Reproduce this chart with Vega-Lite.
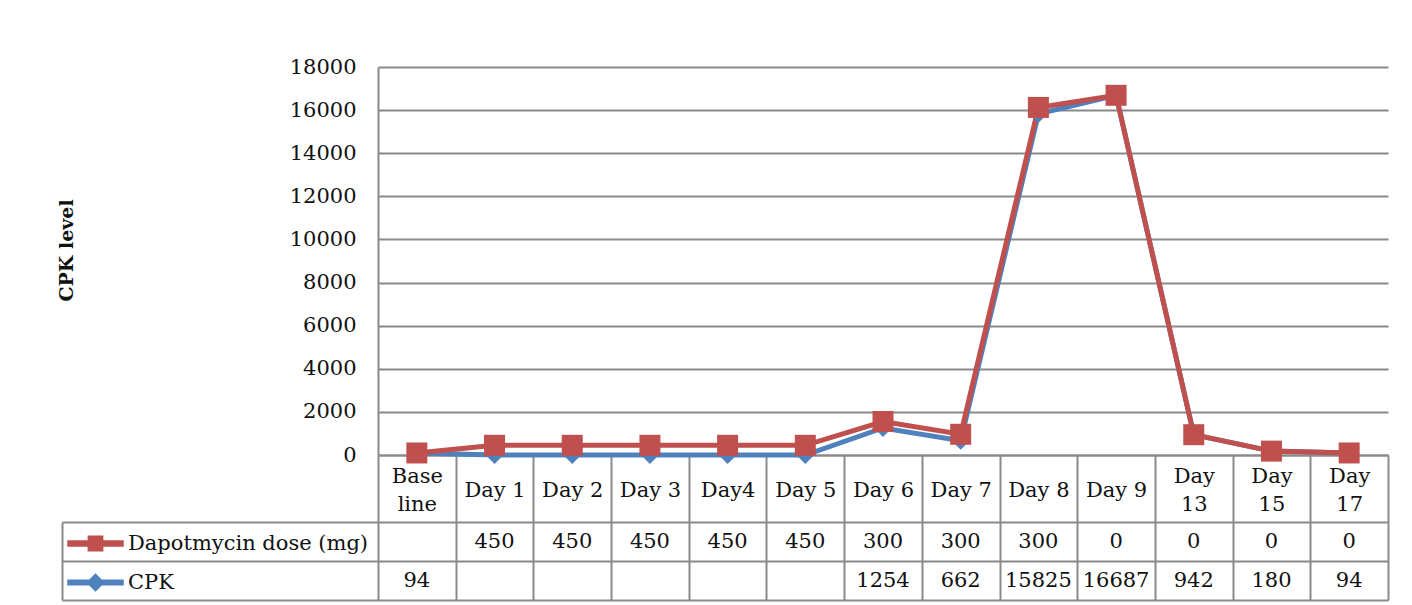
{
  "$schema": "https://vega.github.io/schema/vega-lite/v6.json",
  "autosize": {"type": "none"},
  "padding": {"left": 378, "top": 67, "right": 1034, "bottom": 538},
  "background": "white",
  "config": {"font": "DejaVu Serif", "view": {"stroke": null}},
  "data": {"values": [
    {"i": 0, "day": "Base line", "series": "CPK", "value": 94},
    {"i": 1, "day": "Day 1", "series": "CPK", "value": null},
    {"i": 2, "day": "Day 2", "series": "CPK", "value": null},
    {"i": 3, "day": "Day 3", "series": "CPK", "value": null},
    {"i": 4, "day": "Day4", "series": "CPK", "value": null},
    {"i": 5, "day": "Day 5", "series": "CPK", "value": null},
    {"i": 6, "day": "Day 6", "series": "CPK", "value": 1254},
    {"i": 7, "day": "Day 7", "series": "CPK", "value": 662},
    {"i": 8, "day": "Day 8", "series": "CPK", "value": 15825},
    {"i": 9, "day": "Day 9", "series": "CPK", "value": 16687},
    {"i": 10, "day": "Day 13", "series": "CPK", "value": 942},
    {"i": 11, "day": "Day 15", "series": "CPK", "value": 180},
    {"i": 12, "day": "Day 17", "series": "CPK", "value": 94},
    {"i": 0, "day": "Base line", "series": "Dapotmycin dose (mg)", "value": null},
    {"i": 1, "day": "Day 1", "series": "Dapotmycin dose (mg)", "value": 450},
    {"i": 2, "day": "Day 2", "series": "Dapotmycin dose (mg)", "value": 450},
    {"i": 3, "day": "Day 3", "series": "Dapotmycin dose (mg)", "value": 450},
    {"i": 4, "day": "Day4", "series": "Dapotmycin dose (mg)", "value": 450},
    {"i": 5, "day": "Day 5", "series": "Dapotmycin dose (mg)", "value": 450},
    {"i": 6, "day": "Day 6", "series": "Dapotmycin dose (mg)", "value": 300},
    {"i": 7, "day": "Day 7", "series": "Dapotmycin dose (mg)", "value": 300},
    {"i": 8, "day": "Day 8", "series": "Dapotmycin dose (mg)", "value": 300},
    {"i": 9, "day": "Day 9", "series": "Dapotmycin dose (mg)", "value": 0},
    {"i": 10, "day": "Day 13", "series": "Dapotmycin dose (mg)", "value": 0},
    {"i": 11, "day": "Day 15", "series": "Dapotmycin dose (mg)", "value": 0},
    {"i": 12, "day": "Day 17", "series": "Dapotmycin dose (mg)", "value": 0}
  ]},
  "bounds": "flush",
  "spacing": 67,
  "resolve": {"scale": {"x": "independent", "y": "independent"}},
  "vconcat": [
    {
      "width": 1010,
      "height": 388,
      "transform": [
        {"stack": "value", "groupby": ["day"], "sort": [{"field": "series", "order": "ascending"}], "as": ["v0", "v1"]}
      ],
      "encoding": {
        "x": {
          "field": "day", "type": "nominal",
          "sort": ["Base line", "Day 1", "Day 2", "Day 3", "Day4", "Day 5", "Day 6", "Day 7", "Day 8", "Day 9", "Day 13", "Day 15", "Day 17"],
          "scale": {"type": "band", "paddingInner": 0, "paddingOuter": 0},
          "axis": {
            "title": null, "grid": false,
            "domain": true, "domainColor": "#8a8a8a", "domainWidth": 2,
            "ticks": true, "tickBand": "extent", "tickSize": 67, "tickColor": "#8a8a8a", "tickWidth": 2,
            "labelAngle": 0, "labelBaseline": "middle", "labelAlign": "center",
            "labelPadding": {"condition": {"test": "indexof(['Base line','Day 13','Day 15','Day 17'], datum.value) >= 0", "value": -46}, "value": -32},
            "labelFont": "DejaVu Serif", "labelFontSize": 21, "labelColor": "#111111", "labelLineHeight": 28,
            "labelOverlap": false,
            "labelExpr": "indexof(['Base line','Day 13','Day 15','Day 17'], datum.value) >= 0 ? split(datum.value, ' ') : datum.value"
          }
        },
        "y": {
          "field": "v1", "type": "quantitative",
          "scale": {"domain": [0, 18000], "nice": false},
          "axis": {
            "title": "CPK level", "titleFont": "DejaVu Serif", "titleFontWeight": "bold", "titleFontSize": 19, "titleColor": "#111111",
            "titleX": -312, "titleY": 183, "titleAngle": -90, "titleAlign": "center", "titleBaseline": "middle",
            "values": [0, 2000, 4000, 6000, 8000, 10000, 12000, 14000, 16000, 18000],
            "format": "d",
            "grid": true, "gridColor": "#8a8a8a", "gridWidth": 2,
            "domain": true, "domainColor": "#8a8a8a", "domainWidth": 2,
            "ticks": false, "labelPadding": 22,
            "labelFont": "DejaVu Serif", "labelFontSize": 21, "labelColor": "#111111"
          }
        },
        "color": {
          "field": "series", "type": "nominal",
          "scale": {"domain": ["Dapotmycin dose (mg)", "CPK"], "range": ["#C0504D", "#4F81BD"]},
          "legend": {
            "title": null, "orient": "none", "legendX": -311, "legendY": 448, "direction": "vertical",
            "padding": 0, "symbolSize": 3025, "rowPadding": -1, "labelOffset": 4, "labelLimit": 400,
            "symbolType": "M-1,-0.09L1,-0.09L1,0.09L-1,0.09Z M-0.26,-0.26L0.26,-0.26L0.26,0.26L-0.26,0.26Z",
            "labelFont": "DejaVu Serif", "labelFontSize": 21, "labelColor": "#111111",
            "encode": {"symbols": {"update": {
              "shape": {"signal": "datum.value === 'CPK' ? 'M-1,-0.08L1,-0.08L1,0.08L-1,0.08Z M-0.3,0L0,-0.3L0.3,0L0,0.3Z' : 'M-1,-0.09L1,-0.09L1,0.09L-1,0.09Z M-0.26,-0.26L0.26,-0.26L0.26,0.26L-0.26,0.26Z'"},
              "fill": {"signal": "datum.value === 'CPK' ? '#4F81BD' : '#C0504D'"},
              "stroke": {"value": "transparent"},
              "opacity": {"value": 1}
            }}}
          }
        }
      },
      "layer": [
        {
          "mark": {"type": "line", "strokeWidth": 5},
          "encoding": {"order": {"field": "i", "type": "quantitative"}}
        },
        {
          "transform": [{"filter": "datum.series === 'CPK'"}],
          "mark": {"type": "point", "filled": true, "opacity": 1, "shape": "diamond", "size": 324}
        },
        {
          "transform": [{"filter": "datum.series !== 'CPK'"}],
          "mark": {"type": "point", "filled": true, "opacity": 1, "shape": "square", "size": 441}
        }
      ]
    },
    {
      "width": 1010,
      "height": 78,
      "layer": [
        {
          "transform": [{"filter": "datum.value != null"}],
          "mark": {"type": "text", "font": "DejaVu Serif", "fontSize": 21, "color": "#111111", "baseline": "middle", "align": "center"},
          "encoding": {
            "x": {
              "field": "day", "type": "nominal",
              "sort": ["Base line", "Day 1", "Day 2", "Day 3", "Day4", "Day 5", "Day 6", "Day 7", "Day 8", "Day 9", "Day 13", "Day 15", "Day 17"],
              "scale": {"type": "band", "paddingInner": 0, "paddingOuter": 0},
              "axis": {"title": null, "labels": false, "ticks": false, "domain": false, "grid": true, "tickBand": "extent", "gridColor": "#8a8a8a", "gridWidth": 2}
            },
            "y": {
              "field": "series", "type": "nominal",
              "sort": ["Dapotmycin dose (mg)", "CPK"],
              "scale": {"type": "band", "paddingInner": 0, "paddingOuter": 0},
              "axis": {"title": null, "labels": false, "domain": false, "ticks": true, "tickSize": 316, "tickBand": "extent", "tickColor": "#8a8a8a", "tickWidth": 2, "grid": true, "gridColor": "#8a8a8a", "gridWidth": 2}
            },
            "text": {"field": "value", "type": "quantitative", "format": "d"}
          }
        },
        {
          "mark": {"type": "text"},
          "encoding": {
            "y": {
              "field": "series", "type": "nominal",
              "sort": ["Dapotmycin dose (mg)", "CPK"],
              "scale": {"type": "band", "paddingInner": 0, "paddingOuter": 0},
              "axis": {"orient": "left", "offset": 316, "title": null, "labels": false, "ticks": false, "grid": false, "domain": true, "domainColor": "#8a8a8a", "domainWidth": 2}
            },
            "text": {"value": ""}
          }
        }
      ],
      "resolve": {"axis": {"y": "independent"}}
    }
  ]
}
